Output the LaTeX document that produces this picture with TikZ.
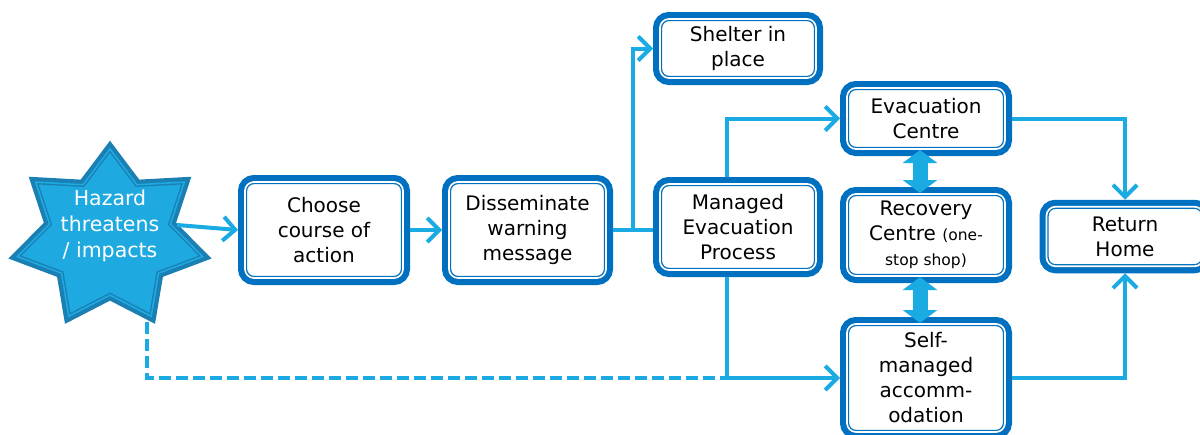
\documentclass[tikz,border=0pt]{standalone}
\usepackage{fontspec}
\setmainfont{DejaVu Sans}
\usetikzlibrary{arrows.meta,calc}
\definecolor{boxblue}{HTML}{0070C0}
\definecolor{linkblue}{HTML}{1AABE3}
\definecolor{starfill}{HTML}{1EA9E1}
\definecolor{stardark}{HTML}{1A80B3}

\begin{document}
\begin{tikzpicture}[x=1pt,y=-1pt,
  every node/.style={font=\fontsize{20}{25}\selectfont},
  stepbox/.style={rectangle, rounded corners=9pt, align=center, fill=white,
    draw=boxblue, double=white, line width=1.3pt, double distance=1.7pt,
    preaction={draw=boxblue, line width=14pt},
    outer sep=7pt, inner sep=0pt},
  link/.style={draw=linkblue, line width=4pt, -{Straight Barb[length=12pt,width=24pt]}},
  plainlink/.style={draw=linkblue, line width=4pt},
  dashlink/.style={draw=linkblue, line width=4pt, dash pattern=on 12pt off 5pt},
  swaplink/.style={draw=linkblue, line width=15pt,
    {Triangle[length=13pt,width=34pt]}-{Triangle[length=13pt,width=34pt]},
    shorten <=-6pt, shorten >=-6pt},
]
\useasboundingbox (0,0) rectangle (1200,434);
\clip (0,0) rectangle (1200,434);

% hazard star (seven points)
\begin{scope}[shift={(110,237)}, y=1pt]
  \path[fill=starfill, draw=stardark, double=starfill, line width=1.4pt,
        double distance=1.6pt, preaction={draw=stardark, line width=10pt}]
    (64.2857:62 and 58)
    \foreach \i in {0,...,5}{ -- ({90+\i*51.4286}:95 and 88) -- ({115.7143+\i*51.4286}:62 and 58)}
    -- ({90+6*51.4286}:95 and 88) -- cycle;
\end{scope}
\node[text=white, align=center, font=\fontsize{20.5}{26}\selectfont] (hazard) at (110,226) {Hazard\\threatens\\/ impacts};
\coordinate (hz-r) at (177,225);
\coordinate (hz-b) at (147,322);

% process boxes
\node[stepbox, minimum width=158, minimum height=96] (choose) at (324,230) {Choose\\course of\\action};
\node[stepbox, minimum width=157, minimum height=96] (dissem) at (527.5,230) {Disseminate\\warning\\message};
\node[stepbox, minimum width=156, minimum height=59] (shelter) at (738,48.5) {Shelter in\\place};
\node[stepbox, minimum width=156, minimum height=86] (managed) at (738,227) {Managed\\Evacuation\\Process};
\node[stepbox, minimum width=158, minimum height=61] (evac) at (926,118.5) {Evacuation\\Centre};
\node[stepbox, minimum width=158, minimum height=82] (recovery) at (926,235) {Recovery\\Centre {\fontsize{15.5}{20}\selectfont(one-}\\{\fontsize{15.5}{20}\selectfont stop shop)}};
\node[stepbox, minimum width=158, minimum height=108] (self) at (926,378) {Self-\\managed\\accomm-\\odation};
\node[stepbox, minimum width=157, minimum height=59.5] (ret) at (1125,236.5) {Return\\Home};

% connectors
\coordinate (j) at ($(dissem.east)!0.5!(dissem.east -| managed.west)$);
\coordinate (mup) at ([xshift=-11pt]managed.north);
\coordinate (mdown) at ([xshift=-11pt]managed.south);

\draw[link] (hz-r) -- (choose.west);
\draw[link] (choose.east) -- (dissem.west);
\draw[plainlink] (dissem.east) -- (dissem.east -| managed.west);
\draw[link] (j) |- (shelter.west);
\draw[link] (mup) |- (evac.west);
\draw[dashlink] (hz-b) |- (mdown |- self.west);
\draw[link] (mdown) |- (self.west);
\draw[link] (evac.east) -| (ret.north);
\draw[link] (self.east) -| (ret.south);

% two-way links between the centres
\draw[swaplink] ([xshift=-6pt]evac.south) -- ([xshift=-6pt]recovery.north);
\draw[swaplink] ([xshift=-6pt]recovery.south) -- ([xshift=-6pt]self.north);
\end{tikzpicture}
\end{document}
